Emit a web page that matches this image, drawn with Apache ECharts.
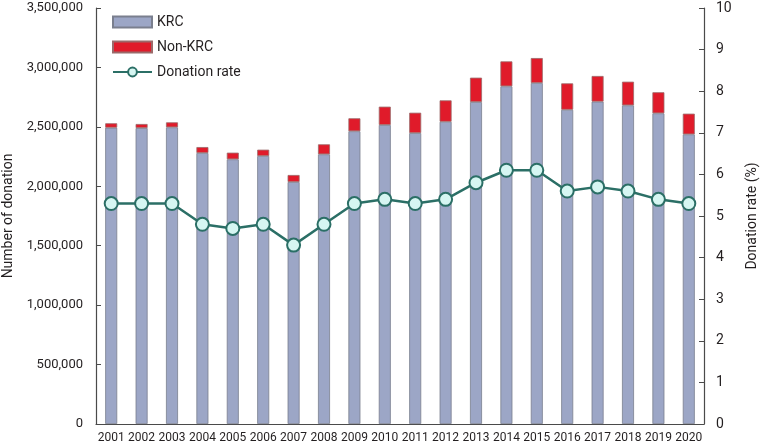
<!DOCTYPE html>
<html><head><meta charset="utf-8">
<script src="https://cdn.jsdelivr.net/npm/echarts@6/dist/echarts.min.js"></script>
<style>html,body{margin:0;padding:0;background:#fff}#c{width:760px;height:444px}</style>
</head><body><div id="c"></div>
<script>
var years = ['2001','2002','2003','2004','2005','2006','2007','2008','2009','2010','2011','2012','2013','2014','2015','2016','2017','2018','2019','2020'];
var krc = [2493000,2490000,2496000,2280000,2227000,2255000,2036000,2269000,2463000,2516000,2448000,2543000,2709000,2841000,2869000,2644000,2712000,2681000,2614000,2437000];
var nonKrc = [37000,34000,42000,50000,56000,53000,59000,84000,109000,154000,171000,180000,205000,210000,210000,222000,216000,199000,177000,174000];
var rate = [5.3,5.3,5.3,4.8,4.7,4.8,4.3,4.8,5.3,5.4,5.3,5.4,5.8,6.1,6.1,5.6,5.7,5.6,5.4,5.3];

var FONT = "Roboto,'Liberation Sans',sans-serif";
var TXT = '#231f20';
var AX = '#4a4a4a';
var chart = echarts.init(document.getElementById('c'), null, {renderer:'canvas'});
chart.setOption({
  animation:false,
  textStyle:{fontFamily:FONT,color:TXT},
  grid:{left:96,right:56,top:8,bottom:20,containLabel:false,outerBoundsMode:'none'},
  legend:{
    orient:'vertical', left:107, top:10, itemWidth:39, itemHeight:11, itemGap:11,
    textStyle:{fontFamily:FONT,fontSize:14,color:TXT},
    data:[{name:'KRC',icon:'rect'},{name:'Non-KRC',icon:'rect'},'Donation rate']
  },
  xAxis:{
    type:'category', data:years,
    axisLine:{lineStyle:{color:AX,width:1.2}},
    axisTick:{show:false},
    axisLabel:{fontFamily:FONT,fontSize:12,color:TXT,margin:8,interval:0}
  },
  yAxis:[{
    type:'value', min:0, max:3500000, interval:500000,
    name:'Number of donation', nameLocation:'middle', nameGap:79, nameRotate:90,
    nameTextStyle:{fontFamily:FONT,fontSize:14,color:TXT},
    axisLine:{show:true,lineStyle:{color:AX,width:1.2}},
    axisTick:{show:true,inside:true,length:5,lineStyle:{color:AX}},
    splitLine:{show:false},
    axisLabel:{fontFamily:FONT,fontSize:13,color:TXT,margin:13,
      formatter:function(v){return v.toString().replace(/\B(?=(\d{3})+(?!\d))/g,',');}}
  },{
    type:'value', min:0, max:10, interval:1,
    name:'Donation rate (%)', nameLocation:'middle', nameGap:41, nameRotate:90,
    nameTextStyle:{fontFamily:FONT,fontSize:14,color:TXT},
    axisLine:{show:true,lineStyle:{color:AX,width:1.2}},
    axisTick:{show:true,inside:true,length:5,lineStyle:{color:AX}},
    splitLine:{show:false},
    axisLabel:{fontFamily:FONT,fontSize:14,color:TXT,margin:12}
  }],
  series:[{
    name:'KRC', type:'bar', stack:'a', data:krc, barWidth:12,
    itemStyle:{color:'#9ca6c6',borderColor:'#7a7f8e',borderWidth:0.8}
  },{
    name:'Non-KRC', type:'bar', stack:'a', data:nonKrc, barWidth:12,
    itemStyle:{color:'#e01b2a',borderColor:'#9a6a6a',borderWidth:0.8}
  },{
    name:'Donation rate', type:'line', yAxisIndex:1, data:rate,
    symbol:'circle', symbolSize:13,
    lineStyle:{color:'#2b6f66',width:2.5},
    itemStyle:{color:'#d6f6f2',borderColor:'#2b6f66',borderWidth:2}
  }]
});
</script></body></html>
